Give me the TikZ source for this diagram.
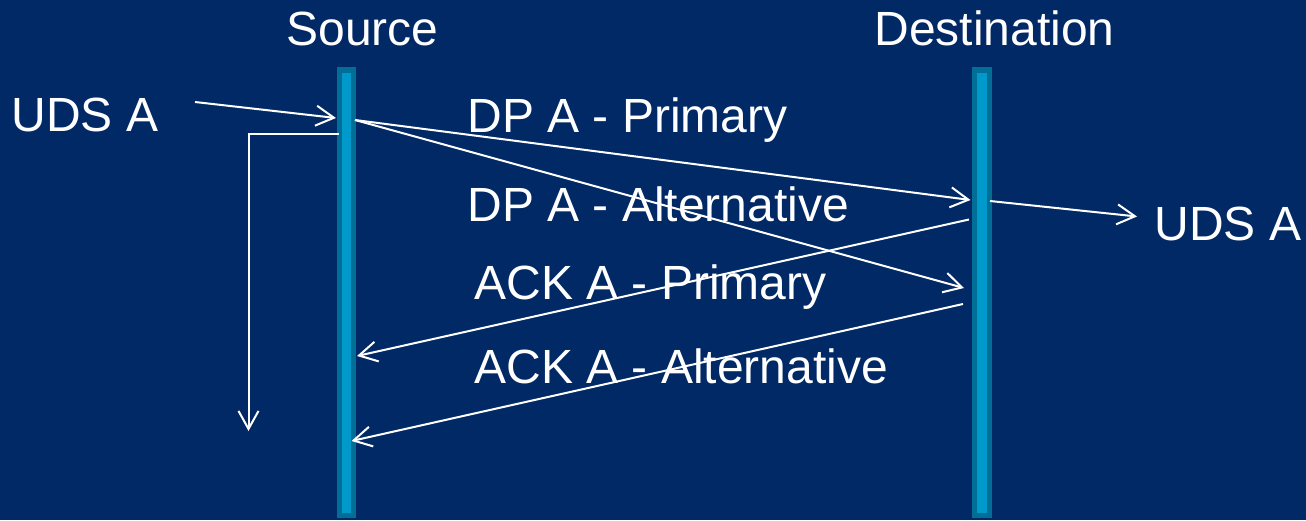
\documentclass[tikz,border=0pt]{standalone}
\usepackage{fontspec}
\setmainfont{Liberation Sans}
\usetikzlibrary{arrows.meta}
\definecolor{bgblue}{RGB}{0,41,102}
\definecolor{barouter}{RGB}{0,110,150}
\definecolor{barinner}{RGB}{0,153,204}
\begin{document}
\begin{tikzpicture}[x=0.5pt,y=-0.5pt,
  lbl/.style={anchor=base west,inner sep=0pt,text=white,font=\fontsize{24}{28}\selectfont},
  msg/.style={draw=white,line width=1pt,-{Straight Barb[length=9pt,width=10pt,line width=1pt]}},
  plain/.style={draw=white,line width=1pt}]
  % background
  \fill[bgblue] (0,0) rectangle (1306,520);
  \useasboundingbox (0,0) rectangle (1306,520);
  % lifelines
  \fill[barouter] (336.5,67) rectangle (355.5,518);
  \fill[barinner] (341.7,73) rectangle (351,513);
  \fill[barouter] (971.7,67) rectangle (991.7,518);
  \fill[barinner] (977.3,73) rectangle (986.7,513);
  % labels
  \node[lbl] (src) at (286,45) {Source};
  \node[lbl] (dst) at (874,45) {Destination};
  \node[lbl] (udsin) at (11,131) {UDS A};
  \node[lbl] (udsout) at (1154,240) {UDS A};
  \node[lbl] (dpp) at (467,132) {DP A - Primary};
  \node[lbl] (dpa) at (467,221) {DP A - Alternative};
  \node[lbl] (ackp) at (474,299) {ACK A - Primary};
  \node[lbl] (acka) at (474,383) {ACK A - Alternative};
  % connector end points
  \coordinate (inS) at (195,102);
  \coordinate (inE) at (336,118);
  \coordinate (sOut) at (355,120);
  \coordinate (dIn1) at (970.5,200);
  \coordinate (dIn2) at (964,288);
  \coordinate (dOut) at (990,201);
  \coordinate (outE) at (1137,216.5);
  \coordinate (ackPs) at (969,219.5);
  \coordinate (ackPe) at (357,356);
  \coordinate (ackAs) at (963,304);
  \coordinate (ackAe) at (351.5,441);
  \coordinate (tmoS) at (339,133.5);
  \coordinate (tmoC) at (248.5,133.5);
  \coordinate (tmoE) at (248.5,431);
  % messages
  \draw[msg] (inS) -- (inE);
  \draw[msg] (sOut) -- (dIn1);
  \draw[msg] (sOut) -- (dIn2);
  \draw[msg] (dOut) -- (outE);
  \draw[msg] (ackPs) -- (ackPe);
  \draw[msg] (ackAs) -- (ackAe);
  \draw[msg] (tmoS) -- (tmoC) -- (tmoE);
\end{tikzpicture}
\end{document}
